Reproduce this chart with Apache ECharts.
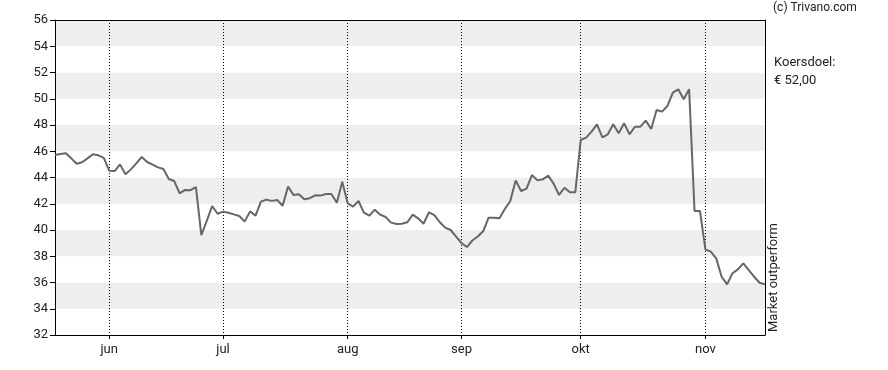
<!DOCTYPE html>
<html>
<head>
<meta charset="utf-8">
<script src="https://cdn.jsdelivr.net/npm/echarts@6/dist/echarts.min.js"></script>
<style>html,body{margin:0;padding:0;background:#fff}#c{width:888px;height:370px}</style>
</head>
<body>
<div id="c"></div>
<script>
// trading days (weekdays) from 2025-05-19 to 2025-11-18
const startDate = '2025-05-19';
const endDate = '2025-11-18';
const monthNames = ['jan','feb','mrt','apr','mei','jun','jul','aug','sep','okt','nov','dec'];
const yTicks = [32, 56, 2];
const prices = [
  45.71,45.79,45.84,45.46,45.05,45.16,45.46,45.77,45.69,45.49,
  44.52,44.49,45.00,44.24,44.62,45.08,45.56,45.18,44.98,44.77,
  44.65,43.89,43.73,42.79,43.05,43.03,43.27,39.60,40.70,41.83,
  41.24,41.40,41.32,41.19,41.07,40.64,41.42,41.09,42.16,42.31,
  42.22,42.29,41.85,43.32,42.67,42.72,42.34,42.42,42.64,42.62,
  42.74,42.74,42.07,43.68,42.03,41.78,42.21,41.32,41.09,41.55,
  41.17,40.99,40.56,40.46,40.48,40.59,41.17,40.89,40.48,41.35,
  41.14,40.59,40.18,40.00,39.49,39.01,38.70,39.20,39.50,39.90,
  40.94,40.94,40.89,41.60,42.21,43.78,42.97,43.15,44.19,43.78,
  43.86,44.14,43.53,42.67,43.22,42.87,42.87,46.86,47.04,47.49,
  48.05,47.06,47.29,48.05,47.37,48.13,47.29,47.87,47.87,48.33,
  47.70,49.14,49.02,49.45,50.46,50.72,49.96,50.72,41.45,41.45,
  38.53,38.35,37.84,36.44,35.86,36.70,37.00,37.46,36.95,36.44,
  35.98,35.86
];
const copyrightText = '(c) Trivano.com';
const targetLines = ['Koersdoel:', '€ 52,00'];
const adviceText = 'Market outperform';

// build category list of weekdays
const dates = [];
(function(){
  const d = new Date(startDate + 'T12:00:00Z');
  const e = new Date(endDate + 'T12:00:00Z');
  while (d <= e) {
    const wd = d.getUTCDay();
    if (wd !== 0 && wd !== 6) dates.push(d.toISOString().slice(0,10));
    d.setUTCDate(d.getUTCDate() + 1);
  }
})();
const monthStart = new Set();
for (let i = 1; i < dates.length; i++) {
  if (dates[i].slice(5,7) !== dates[i-1].slice(5,7)) monthStart.add(i);
}
const isMonthStart = (idx) => monthStart.has(idx);

const chart = echarts.init(document.getElementById('c'), null, {renderer:'canvas'});
const font = 'Roboto, "Liberation Sans", Arial, sans-serif';
chart.setOption({
  animation: false,
  backgroundColor: '#ffffff',
  textStyle: {fontFamily: font},
  grid: {left: 55, right: 123, top: 20, bottom: 35, containLabel: false},
  xAxis: [{
    type: 'category',
    data: dates,
    boundaryGap: false,
    axisLine: {show: true, lineStyle: {color: '#000', width: 1}},
    axisTick: {show: true, length: 4, interval: isMonthStart, lineStyle: {color: '#000'}},
    axisLabel: {
      interval: isMonthStart, margin: 8, color: '#222', fontSize: 13, fontFamily: font,
      formatter: (v) => monthNames[parseInt(v.slice(5,7),10) - 1]
    },
    splitLine: {show: true, interval: isMonthStart, lineStyle: {color: '#000', width: 1, type: [1, 2]}},
    splitArea: {show: false}
  }, {
    type: 'category',
    data: dates,
    position: 'top',
    boundaryGap: false,
    axisLine: {show: true, lineStyle: {color: '#000', width: 1}},
    axisTick: {show: false},
    axisLabel: {show: false},
    splitLine: {show: false}
  }],
  yAxis: [{
    type: 'value',
    min: yTicks[0], max: yTicks[1], interval: yTicks[2],
    axisLine: {show: true, lineStyle: {color: '#000', width: 1}},
    axisTick: {show: true, length: 5, lineStyle: {color: '#000'}},
    axisLabel: {margin: 7, color: '#222', fontSize: 13, fontFamily: font},
    splitLine: {show: false},
    splitArea: {show: true, areaStyle: {color: ['#ffffff', '#eeeeee']}}
  }, {
    type: 'value',
    position: 'right',
    min: yTicks[0], max: yTicks[1], interval: yTicks[2],
    axisLine: {show: true, lineStyle: {color: '#000', width: 1}},
    axisTick: {show: false},
    axisLabel: {show: false},
    splitLine: {show: false}
  }],
  series: [{
    type: 'line',
    data: prices,
    xAxisIndex: 0, yAxisIndex: 0,
    showSymbol: false,
    symbol: 'none',
    lineStyle: {color: '#666666', width: 2},
    z: 5
  }],
  graphic: [
    {type: 'text', left: 773, top: 2, style: {text: copyrightText, fill: '#222', font: '12px ' + font}},
    {type: 'text', left: 774, top: 56, style: {text: targetLines[0], fill: '#222', font: '13px ' + font}},
    {type: 'text', left: 774, top: 74, style: {text: targetLines[1], fill: '#222', font: '13px ' + font}},
    {type: 'text', x: 767, y: 332, rotation: Math.PI / 2,
     style: {text: adviceText, fill: '#222', font: '13px ' + font, align: 'left', verticalAlign: 'top'}}
  ]
});
</script>
</body>
</html>
